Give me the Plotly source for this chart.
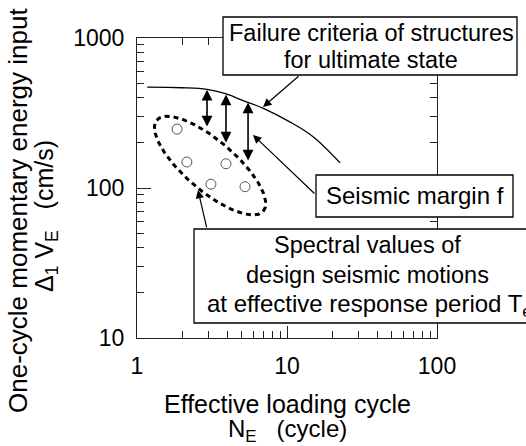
import numpy as np
import plotly.graph_objects as go

# ---------------- data ----------------
fail_N = [1.17, 2.0, 2.93, 3.9, 5.0, 6.9, 10.5, 15.0, 22.6]
fail_V = [470, 466, 455, 425, 385, 341, 275, 219, 147]

obs_N = [1.85, 2.15, 3.92, 3.11, 5.25]
obs_V = [247, 149, 145, 106, 102]

margin_N = [2.93, 3.92, 5.5]
margin_top = [452, 420, 372]
margin_bot = [251, 196, 149]

# dashed ellipse enclosing spectral values (centre, semi-axes in decades, tilt in degrees)
ell_center_N = 3.07
ell_center_V = 141
ell_a_dec = 0.467
ell_b_dec = 0.167
ell_angle_deg = -40.6

x_ticks = [1, 10, 100]
x_ticktext = ["1", "10", "100"]
y_ticks = [10, 100, 1000]
y_ticktext = ["10", "100", "1000"]
x_minor = [2, 3, 4, 5, 6, 7, 8, 9, 20, 30, 40, 50, 60, 70, 80, 90]
y_minor = [20, 30, 40, 50, 60, 70, 80, 90, 200, 300, 400, 500, 600, 700, 800, 900]

FONT = "Liberation Sans, Arial, Helvetica, sans-serif"

# plot area in pixels (for placing text boxes)
L, T, W, H = 137, 38, 300, 300
def px(x):
    return (x - L) / W
def py(y):
    return (T + H - y) / H

fig = go.Figure()

# failure criterion curve
fig.add_trace(go.Scatter(x=fail_N, y=fail_V, mode="lines",
                         line=dict(color="black", width=1.3, shape="spline", smoothing=1.0),
                         hoverinfo="skip", showlegend=False))

# ellipse
t = np.linspace(0, 2 * np.pi, 200)
ang = np.deg2rad(ell_angle_deg)
ex = ell_a_dec * np.cos(t)
ey = ell_b_dec * np.sin(t)
lx = np.log10(ell_center_N) + ex * np.cos(ang) - ey * np.sin(ang)
ly = np.log10(ell_center_V) + ex * np.sin(ang) + ey * np.cos(ang)
fig.add_trace(go.Scatter(x=10 ** lx, y=10 ** ly, mode="lines",
                         line=dict(color="black", width=3, dash="5px,4px"),
                         hoverinfo="skip", showlegend=False))

# observed spectral values
fig.add_trace(go.Scatter(x=obs_N, y=obs_V, mode="markers",
                         marker=dict(symbol="circle-open", size=10, color="#555555",
                                     line=dict(width=1.0)),
                         hoverinfo="skip", showlegend=False))

annotations = []
# double-headed margin arrows
for n, top, bot in zip(margin_N, margin_top, margin_bot):
    annotations.append(dict(x=np.log10(n), y=np.log10(top), ax=np.log10(n), ay=np.log10(bot),
                            xref="x", yref="y", axref="x", ayref="y", text="",
                            showarrow=True, arrowhead=2, arrowside="end+start",
                            arrowsize=1.35, arrowwidth=1.6, arrowcolor="black",
                            standoff=0, startstandoff=0))

# pointer arrows from boxes
pointers = [
    (6.92, 347, 37, -32),
    (5.93, 226, 63, 60),
    (2.55, 97, 9, 39),
]
for n, v, dx, dy in pointers:
    annotations.append(dict(x=np.log10(n), y=np.log10(v), ax=dx, ay=dy,
                            xref="x", yref="y", text="", showarrow=True,
                            arrowhead=2, arrowsize=1.4, arrowwidth=1.2, arrowcolor="black",
                            standoff=0))

shapes = []
def box(x0, y0, x1, y1):
    shapes.append(dict(type="rect", xref="paper", yref="paper",
                       x0=px(x0), x1=px(x1), y0=py(y1), y1=py(y0),
                       line=dict(color="black", width=1.3), fillcolor="white", layer="above"))

def text(x, y, s, size=23.5, angle=0):
    annotations.append(dict(x=px(x), y=py(y), xref="paper", yref="paper", text=s,
                            showarrow=False, xanchor="center", yanchor="middle",
                            textangle=angle, font=dict(family=FONT, size=size, color="black")))

box(223, 17, 517, 75)
text(371, 33, "Failure criteria of structures")
text(371, 60, "for ultimate state")

box(316, 175, 513, 217)
text(415, 196, "Seismic margin f", size=24)

box(194, 229, 545, 323)
text(367, 245, "Spectral values of")
text(367, 275, "design seismic motions")
text(369, 305, "at effective response period T<sub>e</sub>", size=24)

# axis titles
text(18, 211, "One-cycle momentary energy input", size=26, angle=-90)
text(46, 216, "Δ<sub>1</sub> V<sub>E</sub>   (cm/s)", size=25, angle=-90)
text(287, 404, "Effective loading cycle", size=25)
text(287, 430, "N<sub>E</sub>   (cycle)", size=24)

axis_common = dict(type="log", showgrid=False, zeroline=False, showline=True,
                   linecolor="#222222", linewidth=1.2, mirror="ticks", ticks="inside",
                   tickcolor="#222222", tickwidth=1.2,
                   tickfont=dict(family=FONT, size=23, color="black"))

fig.update_xaxes(range=[0, 2], tickmode="array", tickvals=x_ticks, ticktext=x_ticktext,
                 ticklen=12, ticklabelstandoff=7,
                 minor=dict(tickmode="array", tickvals=x_minor, ticks="inside", ticklen=7,
                            tickcolor="#222222", tickwidth=1),
                 **axis_common)
fig.update_yaxes(range=[1, 3], tickmode="array", tickvals=y_ticks, ticktext=y_ticktext,
                 ticklen=14, ticklabelstandoff=7,
                 minor=dict(tickmode="array", tickvals=y_minor, ticks="inside", ticklen=7,
                            tickcolor="#222222", tickwidth=1),
                 **axis_common)

fig.update_layout(width=526, height=446, margin=dict(l=L, r=526 - L - W, t=T, b=446 - T - H),
                  paper_bgcolor="white", plot_bgcolor="white",
                  font=dict(family=FONT, color="black"),
                  annotations=annotations, shapes=shapes, showlegend=False)

fig.write_html("out.html")
